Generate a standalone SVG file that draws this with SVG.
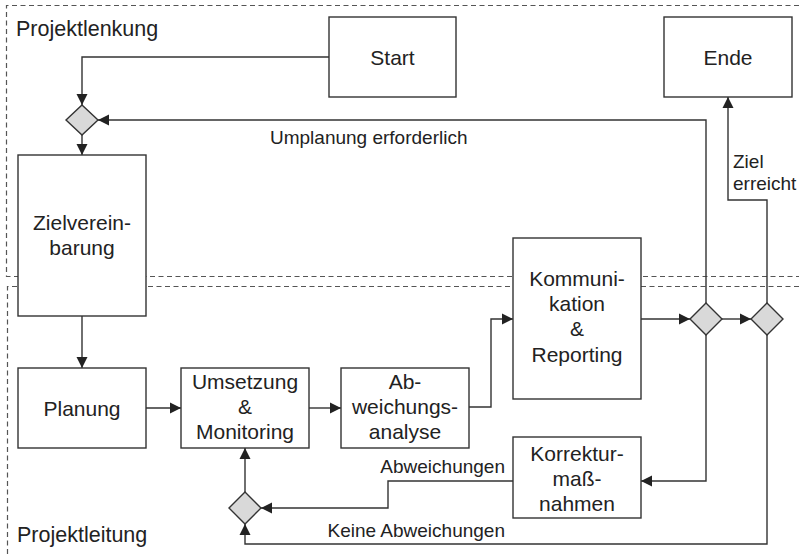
<svg xmlns="http://www.w3.org/2000/svg" width="799" height="554" viewBox="0 0 799 554">
<defs>
<style>
.lane{fill:none;stroke:#555;stroke-width:1.2;stroke-dasharray:5 3.5}
.box{fill:#fff;stroke:#333;stroke-width:1.4}
.dia{fill:#d9d9d9;stroke:#333;stroke-width:1.4}
.con{fill:none;stroke:#333;stroke-width:1.4;marker-end:url(#arr)}
.t{font-family:"Liberation Sans",Arial,sans-serif;font-size:21px;fill:#222;text-anchor:middle}
.lab{font-family:"Liberation Sans",Arial,sans-serif;font-size:19px;fill:#222}
.lane-t{font-family:"Liberation Sans",Arial,sans-serif;font-size:21.5px;fill:#222}
</style>
<marker id="arr" markerUnits="userSpaceOnUse" markerWidth="12" markerHeight="12" viewBox="0 0 12 12" refX="11" refY="6" orient="auto">
<path d="M0,0.5 L11,6 L0,11.5 Z" fill="#222"/>
</marker>
</defs>
<g id="lanes">
<path class="lane" d="M799,5.5 H6.5 V276.5 H799"/>
<path class="lane" d="M799,286.5 H7.5 V554"/>
<text class="lane-t" x="16" y="36">Projektlenkung</text>
<text class="lane-t" x="17" y="541.5">Projektleitung</text>
</g>
<g id="connectors">
<path class="con" d="M329,57 H82 V105"/>
<path class="con" d="M82,135 V155"/>
<path class="con" d="M706,303 V120 H98"/>
<path class="con" d="M767,303 V200 H728 V97"/>
<path class="con" d="M82,316 V368"/>
<path class="con" d="M146,408 H181"/>
<path class="con" d="M309,408 H341"/>
<path class="con" d="M469,407 H491 V319 H513"/>
<path class="con" d="M641,319 H690"/>
<path class="con" d="M722,319 H751"/>
<path class="con" d="M706,335 V481 H641"/>
<path class="con" d="M513,481 H388 V508 H261"/>
<path class="con" d="M245,492 V448"/>
<path class="con" d="M767,335 V544 H245 V524"/>
<text class="lab" x="270" y="143.5">Umplanung erforderlich</text>
<text class="lab" x="733" y="168">Ziel</text>
<text class="lab" x="733" y="190">erreicht</text>
<text class="lab" x="505" y="473" text-anchor="end">Abweichungen</text>
<text class="lab" x="505" y="536.5" text-anchor="end">Keine Abweichungen</text>
</g>
<g id="start">
<rect class="box" x="329" y="17" width="127" height="80"/>
<text class="t" x="392.5" y="65">Start</text>
</g>
<g id="ende">
<rect class="box" x="664" y="17" width="128" height="80"/>
<text class="t" x="728" y="65">Ende</text>
</g>
<g id="zielvereinbarung">
<rect class="box" x="18" y="155" width="128" height="161"/>
<text class="t" x="82" y="230">Zielverein-</text>
<text class="t" x="82" y="254.5">barung</text>
</g>
<g id="planung">
<rect class="box" x="18" y="368" width="128" height="80"/>
<text class="t" x="82" y="415.5">Planung</text>
</g>
<g id="umsetzung">
<rect class="box" x="181" y="368" width="128" height="80"/>
<text class="t" x="245" y="388.5">Umsetzung</text>
<text class="t" x="245" y="413.5">&amp;</text>
<text class="t" x="245" y="438.5">Monitoring</text>
</g>
<g id="abweichungsanalyse">
<rect class="box" x="341" y="368" width="128" height="80"/>
<text class="t" x="405" y="388.5">Ab-</text>
<text class="t" x="405" y="413.5">weichungs-</text>
<text class="t" x="405" y="438.5">analyse</text>
</g>
<g id="kommunikation">
<rect class="box" x="513" y="238" width="128" height="161"/>
<text class="t" x="577" y="286">Kommuni-</text>
<text class="t" x="577" y="311">kation</text>
<text class="t" x="577" y="336">&amp;</text>
<text class="t" x="577" y="361.5">Reporting</text>
</g>
<g id="korrekturmassnahmen">
<rect class="box" x="513" y="437" width="128" height="81"/>
<text class="t" x="577" y="461">Korrektur-</text>
<text class="t" x="577" y="486">maß-</text>
<text class="t" x="577" y="511">nahmen</text>
</g>
<g id="entscheidung-oben">
<polygon class="dia" points="82,105 98,120 82,135 66,120"/>
</g>
<g id="entscheidung-unten">
<polygon class="dia" points="245,492 261,508 245,524 229,508"/>
</g>
<g id="entscheidung-1">
<polygon class="dia" points="706,303 722,319 706,335 690,319"/>
</g>
<g id="entscheidung-2">
<polygon class="dia" points="767,303 783,319 767,335 751,319"/>
</g>
</svg>
